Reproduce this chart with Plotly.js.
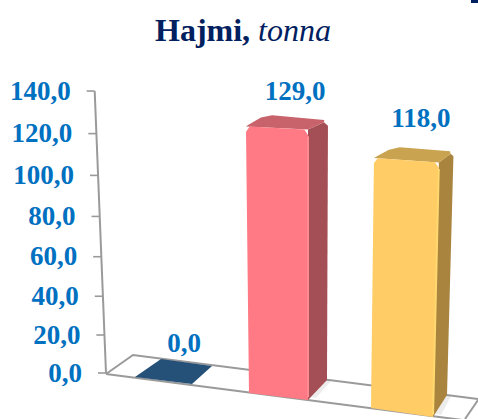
<!DOCTYPE html>
<html><head><meta charset="utf-8">
<script src="https://cdn.plot.ly/plotly-3.0.1.min.js"></script>
<style>html,body{margin:0;padding:0;background:#fff}#c{width:478px;height:419px}</style></head>
<body><div id="c"></div>
<script>
const categories = ['A','B','C'];
const values = [0, 129, 118];
const valueLabels = ['0,0','129,0','118,0'];
const tickValues = [0,20,40,60,80,100,120,140];
const tickLabels = ['0,0','20,0','40,0','60,0','80,0','100,0','120,0','140,0'];

const frontColors = ['#255078','#ff7a84','#ffcc66'];
const edgeColors  = ['#255078','#ff8a92','#ffd870'];
const sideColors  = ['#255078','#a44f55','#a8843f'];
const topColors   = ['#255078','#c8636b','#c9a34f'];
const BLUE='#0070c0', GREY='#9a9a9a', NAVY='#002060', SERIF='"Liberation Serif",serif';

// ground footprints on the floor: front-left, front-right, back-right, back-left
const footprints = [
  [[135,377],[192,384],[212,366],[161,359]],
  [[249,393],[308,400],[327,380],[268,373]],
  [[371,408],[433,417],[447,395],[390,386]]
];
const labelAnchors = [[184,345],[295,93],[421,120]];
// perspective projection of (ground point, value) to the chart plane
function project(p, v){
  const f = Math.max(1, 1+(p[1]-378)*0.0021);
  return [p[0]+(p[0]-308)*0.0004*v, p[1]-f*(1.881*v+0.00095*v*v)];
}
const AX0=[106,373];
function poly(pts,color){
  const closed=pts.concat([pts[0]]);
  return {type:'scatter',mode:'lines',x:closed.map(p=>p[0]),y:closed.map(p=>p[1]),
    fill:'toself',fillcolor:color,line:{width:0,color:color},hoverinfo:'skip',showlegend:false};
}
function path(pts,color,w){
  return {type:'scatter',mode:'lines',x:pts.map(p=>p[0]),y:pts.map(p=>p[1]),
    line:{color:color,width:w},hoverinfo:'skip',showlegend:false};
}
function lerp(a,b,t){return [a[0]+(b[0]-a[0])*t,a[1]+(b[1]-a[1])*t];}
const traces=[];
// floor
traces.push(path([[106,374],[133,355],[478,399]],GREY,2));
traces.push(path([[106,374],[478,422]],GREY,2));
traces.push(path([[478,400],[465,419]],GREY,2));
// value axis and ticks
traces.push(path([project(AX0,0),project(AX0,140)],GREY,2));
tickValues.forEach(v=>{const q=project(AX0,v);traces.push(path([q,[q[0]-8,q[1]]],GREY,1.6));});
traces.push({type:'scatter',mode:'text',x:tickValues.map(v=>project(AX0,v)[0]-24),y:tickValues.map(v=>project(AX0,v)[1]+2),
  text:tickLabels,textposition:'middle left',textfont:{family:SERIF,size:27,color:BLUE,weight:700},hoverinfo:'skip',showlegend:false});
// bars
values.forEach((v,i)=>{
  const g=footprints[i];
  if(v===0){traces.push(poly(g,frontColors[i]));return;}
  const t=g.map(p=>project(p,v));
  // soft contact shadow
  traces.push(poly([lerp(g[1],g[2],0.15),g[2],[g[2][0]+4,g[2][1]+1],[g[1][0]+8,g[1][1]-2]],'rgba(120,120,120,0.14)'));
  // side
  traces.push(poly([g[1],g[2],lerp(t[2],g[2],0.02),lerp(t[2],t[1],0.2),t[1]],sideColors[i]));
  // top
  traces.push(poly([lerp(t[0],t[3],0.15),lerp(t[3],t[0],0.25),lerp(t[3],t[2],0.1),lerp(t[2],t[3],0.06),lerp(t[2],t[1],0.2),t[1],t[0]],topColors[i]));
  // front with rounded top corners
  traces.push(poly([g[0],g[1],lerp(t[1],g[1],0.02),lerp(t[1],t[0],0.06),lerp(t[0],t[1],0.06),lerp(t[0],g[0],0.02)],frontColors[i]));
  // light right edge of the front face
  traces.push(path([lerp(g[1],t[1],0.01),lerp(t[1],g[1],0.025)],edgeColors[i],2));
});
// value labels
traces.push({type:'scatter',mode:'text',x:labelAnchors.map(p=>p[0]),y:labelAnchors.map(p=>p[1]),text:valueLabels,
  textposition:'middle center',textfont:{family:SERIF,size:27,color:BLUE,weight:700},hoverinfo:'skip',showlegend:false});

const layout={width:478,height:419,margin:{l:0,r:0,t:0,b:0},paper_bgcolor:'#fff',plot_bgcolor:'#fff',showlegend:false,
  title:{text:'<b>Hajmi,</b> <i>tonna</i>',x:243/478,xanchor:'center',y:1-30/419,yanchor:'middle',font:{family:SERIF,size:32,color:NAVY}},
  xaxis:{range:[0,478],visible:false,fixedrange:true},
  yaxis:{range:[419,0],visible:false,fixedrange:true},
  shapes:[{type:'rect',xref:'paper',yref:'paper',x0:471/478,x1:1,y0:1-3/419,y1:1,fillcolor:NAVY,line:{width:0}}]};
Plotly.newPlot('c',traces,layout,{displayModeBar:false,staticPlot:true});
</script></body></html>
